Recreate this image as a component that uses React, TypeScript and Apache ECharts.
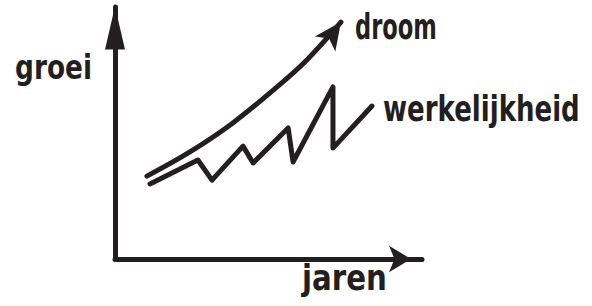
import React, { useEffect, useRef } from 'react';
import * as echarts from 'echarts';

// Data (arbitrary units 0..10 on both axes)
const dreamX = [1.04, 2.44, 3.84, 5.28, 6.25, 7.36];
const dreamY = [3.29, 4.25, 5.4, 6.83, 7.9, 9.4];
const realityX = [1.14, 2.7, 3.16, 4.17, 4.5, 5.64, 5.8, 7.1, 7.1, 8.37];
const realityY = [2.98, 3.93, 3.13, 4.48, 3.81, 5.2, 3.85, 6.83, 4.4, 6.07];
const seriesNames = ['droom', 'werkelijkheid'];
const xAxisName = 'jaren';
const yAxisName = 'groei';

const INK = '#231f20';
const FONT_FAMILY = '"DejaVu Sans", "Noto Sans", sans-serif';

function measure(text: string, size: number): number {
  const ctx = document.createElement('canvas').getContext('2d');
  if (!ctx) return text.length * size * 0.6;
  ctx.font = `bold ${size}px ${FONT_FAMILY}`;
  return ctx.measureText(text).width;
}

function label(text: string, left: number, centerY: number, width: number, size: number) {
  const w = measure(text, size);
  return {
    type: 'text',
    x: left,
    y: centerY,
    scaleX: width / w,
    silent: true,
    style: {
      text,
      x: 0,
      y: 0,
      fill: INK,
      fontSize: size,
      fontWeight: 'bold',
      fontFamily: FONT_FAMILY,
      align: 'left',
      verticalAlign: 'middle',
    },
  };
}

export default function App() {
  const ref = useRef<HTMLDivElement>(null);
  useEffect(() => {
    if (!ref.current) return;
    const chart = echarts.init(ref.current, undefined, { renderer: 'svg' });
    const dreamData: any[] = dreamX.map((x, i) => [x, dreamY[i]]);
    const last = dreamData.length - 1;
    dreamData[last] = {
      value: dreamData[last],
      symbol: 'arrow',
      symbolSize: [19, 27],
      symbolRotate: -36,
      itemStyle: { color: INK },
    };
    const realityData = realityX.map((x, i) => [x, realityY[i]]);
    const axisLineStyle = { color: INK, width: 5, cap: 'round' };
    chart.setOption({
      animation: false,
      backgroundColor: '#ffffff',
      grid: { left: 115, right: 170, top: 7, bottom: 47 },
      xAxis: {
        type: 'value',
        name: '',
        min: 0,
        max: 10,
        axisLine: {
          show: true,
          onZero: false,
          symbol: ['none', 'arrow'],
          symbolSize: [20, 22],
          symbolOffset: [0, -11],
          lineStyle: axisLineStyle,
        },
        axisTick: { show: false },
        axisLabel: { show: false },
        splitLine: { show: false },
      },
      yAxis: {
        type: 'value',
        min: 0,
        max: 10,
        axisLine: {
          show: true,
          onZero: false,
          symbol: ['none', 'triangle'],
          symbolSize: [20, 43],
          symbolOffset: [0, -21],
          lineStyle: axisLineStyle,
        },
        axisTick: { show: false },
        axisLabel: { show: false },
        splitLine: { show: false },
      },
      series: [
        {
          name: seriesNames[0],
          type: 'line',
          smooth: 0.35,
          showSymbol: true,
          symbol: 'none',
          data: dreamData,
          lineStyle: { color: INK, width: 5, cap: 'round', join: 'round' },
          itemStyle: { color: INK },
        },
        {
          name: seriesNames[1],
          type: 'line',
          showSymbol: false,
          symbol: 'none',
          data: realityData,
          lineStyle: { color: INK, width: 5, cap: 'round', join: 'round' },
        },
      ],
      graphic: [
        label(seriesNames[0], 355, 26, 82, 36),
        label(seriesNames[1], 383, 108, 197, 36),
        label(yAxisName, 15, 67, 77, 34),
        label(xAxisName, 302, 278, 85, 36),
      ],
    });
    return () => chart.dispose();
  }, []);
  return (
    <div
      ref={ref}
      style={{ position: 'fixed', left: 0, top: 0, width: 592, height: 306, background: '#fff' }}
    />
  );
}
